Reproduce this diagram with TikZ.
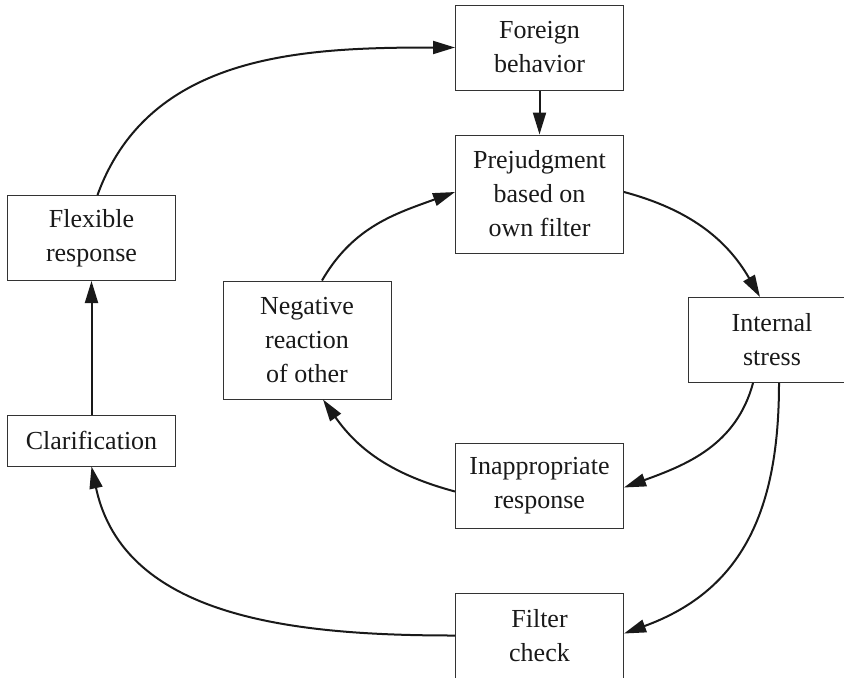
\documentclass[tikz,border=0pt]{standalone}
\usepackage{fontspec}
\setmainfont{Liberation Serif}
\usetikzlibrary{arrows.meta}

\begin{document}
\begin{tikzpicture}[x=0.5pt,y=0.5pt]
\tikzstyle{box}=[draw=black!80, line width=0.5pt, align=center, minimum width=84pt, inner sep=0pt, font=\fontsize{13}{17}\selectfont, text=black!90]
\tikzstyle{arr}=[line width=1pt, black!90, -{Triangle[length=11pt,width=6.5pt]}]

\clip (0,0) rectangle (844,677);

\node[box, minimum height=42.5pt] (fb) at (539.5,629.5) {Foreign\\behavior};
\node[box, minimum height=59pt] (pj) at (539.5,483) {Prejudgment\\based on\\own filter};
\node[box, minimum height=42.5pt] (fr) at (91.5,439) {Flexible\\response};
\node[box, minimum height=59pt] (nr) at (307,337) {Negative\\reaction\\of other};
\node[box, minimum height=42.5pt] (is) at (772,337) {Internal\\stress};
\node[box, minimum height=25.5pt] (cl) at (91.5,236.5) {Clarification};
\node[box, minimum height=42.5pt] (ir) at (539.5,191.5) {Inappropriate\\response};
\node[box, minimum height=42.5pt] (fc) at (539.5,41.5) {Filter\\check};

\draw[arr] ([xshift=3pt]fr.north) to[out=70,in=180] (fb.west);
\draw[arr] (fb) -- (pj);
\draw[arr] ([yshift=1pt]pj.east) to[out=-15,in=120] ([xshift=-6pt]is.north);
\draw[arr] ([xshift=-9.5pt]is.south) to[out=-105,in=20] ([yshift=-1pt]ir.east);
\draw[arr] ([xshift=3.5pt]is.south) to[out=-90,in=20,looseness=1.1] ([yshift=1pt]fc.east);
\draw[arr] ([yshift=-3pt]ir.west) to[out=165,in=-55] ([xshift=8pt]nr.south);
\draw[arr] ([xshift=7.5pt]nr.north) to[out=60,in=200] ([yshift=1pt]pj.west);
\draw[arr] (fc.west) to[out=180,in=-78] (cl.south);
\draw[arr] (cl) -- (fr);

\end{tikzpicture}
\end{document}
